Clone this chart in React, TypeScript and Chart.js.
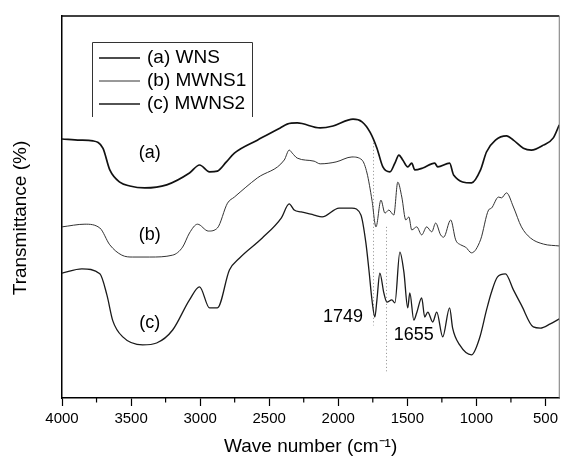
import React, { useEffect, useRef } from 'react';
import { Chart, registerables } from 'chart.js';

Chart.register(...registerables);

const FONT = '"Liberation Sans", Arial, Helvetica, sans-serif';

const seriesLabels = ['(a) WNS', '(b) MWNS1', '(c) MWNS2'];
const xTitle = 'Wave number (cm⁻¹)';
const yTitle = 'Transmittance (%)';

const waveA = [4000, 3870, 3776, 3704, 3654, 3582, 3509, 3401, 3242, 3077, 3004, 2932, 2875, 2810, 2752, 2586, 2420, 2370, 2297, 2131, 2038, 1893, 1828, 1770, 1720, 1677, 1626, 1590, 1561, 1533, 1497, 1468, 1446, 1388, 1302, 1280, 1194, 1165, 1035, 970, 927, 862, 782, 732, 660, 602, 515, 443, 400];
const transA = [67.8, 67.5, 67.3, 65.4, 59.7, 56.5, 55.5, 55.0, 55.8, 58.9, 61.0, 59.2, 59.4, 61.8, 64.1, 67.5, 70.7, 71.7, 72.0, 70.7, 71.2, 73.0, 72.3, 69.6, 65.4, 60.5, 59.2, 61.5, 63.6, 62.3, 60.5, 61.5, 59.7, 60.2, 61.5, 60.5, 61.5, 58.4, 56.3, 59.7, 64.4, 67.5, 68.6, 67.5, 65.4, 64.9, 66.2, 68.1, 71.5];

const waveB = [4000, 3834, 3726, 3654, 3567, 3488, 3365, 3199, 3127, 3077, 3019, 2940, 2875, 2802, 2752, 2586, 2391, 2355, 2333, 2297, 2175, 2131, 2016, 1901, 1828, 1792, 1756, 1727, 1691, 1662, 1634, 1598, 1569, 1540, 1511, 1489, 1468, 1432, 1396, 1360, 1323, 1295, 1259, 1237, 1186, 1150, 1114, 1078, 1035, 970, 912, 891, 840, 818, 782, 732, 674, 609, 515, 400];
const transB = [44.8, 45.5, 44.5, 40.1, 37.4, 36.9, 36.9, 37.4, 39.5, 43.2, 45.5, 43.7, 44.5, 51.0, 52.6, 57.6, 62.3, 64.9, 64.1, 62.8, 62.0, 61.3, 61.8, 63.1, 62.3, 58.9, 51.8, 44.8, 51.8, 48.4, 49.2, 47.9, 56.5, 52.6, 46.6, 47.4, 44.0, 44.8, 42.7, 44.8, 43.5, 45.8, 42.7, 42.1, 46.6, 41.4, 40.1, 39.5, 38.0, 41.4, 49.2, 49.7, 52.6, 52.4, 53.7, 50.0, 44.8, 41.9, 40.3, 39.8];

const waveC = [4000, 3856, 3726, 3675, 3632, 3560, 3416, 3315, 3199, 3077, 3004, 2932, 2875, 2788, 2716, 2550, 2413, 2355, 2319, 2269, 2175, 2117, 1994, 1901, 1836, 1800, 1778, 1756, 1735, 1720, 1699, 1670, 1648, 1612, 1590, 1554, 1525, 1497, 1482, 1453, 1432, 1396, 1374, 1352, 1316, 1287, 1244, 1194, 1172, 1121, 1035, 977, 927, 891, 847, 790, 732, 674, 588, 537, 465, 400];
const transC = [32.7, 33.8, 32.5, 27.0, 20.2, 16.0, 13.9, 14.4, 17.8, 25.7, 29.1, 23.6, 23.6, 33.5, 36.6, 41.9, 47.1, 50.8, 49.2, 48.7, 47.9, 47.4, 49.7, 49.7, 47.9, 40.6, 33.5, 25.7, 21.2, 25.7, 32.7, 27.5, 25.1, 25.7, 24.9, 38.2, 33.0, 23.6, 27.5, 20.4, 22.3, 26.2, 21.2, 22.5, 19.9, 22.5, 16.0, 23.6, 18.3, 13.9, 11.3, 15.7, 23.0, 27.7, 31.7, 32.5, 28.3, 24.3, 18.6, 18.3, 19.4, 20.7];

const majorTicks = [4000, 3500, 3000, 2500, 2000, 1500, 1000, 500];
const minorTicks = [3750, 3250, 2750, 2250, 1750, 1250, 750];

const curveTags = ['(a)', '(b)', '(c)'];
const curveTagWave = [3365, 3365, 3365];
const curveTagTrans = [64.1, 42.7, 19.6];

const peakLabels = ['1749', '1655'];
const peakLabelWave = [1966, 1453];
const peakLabelTrans = [21.2, 16.5];

const markerWave = [1749, 1655];
const markerTop = [66.8, 44.8];
const markerBottom = [19.0, 7.0];

const toPoints = (xs: number[], ys: number[]) => xs.map((x, i) => ({ x, y: ys[i] }));

const decorPlugin = {
  id: 'decor',
  beforeDatasetsDraw(chart: any) {
    const { ctx, scales } = chart;
    const xs = scales.x;
    const ys = scales.y;
    ctx.save();
    ctx.strokeStyle = '#8a8a8a';
    ctx.lineWidth = 1;
    ctx.setLineDash([1, 2.5]);
    markerWave.forEach((w, i) => {
      const px = Math.round(xs.getPixelForValue(w)) + 0.5;
      ctx.beginPath();
      ctx.moveTo(px, ys.getPixelForValue(markerTop[i]));
      ctx.lineTo(px, ys.getPixelForValue(markerBottom[i]));
      ctx.stroke();
    });
    ctx.restore();
  },
  afterDraw(chart: any) {
    const { ctx, chartArea, scales } = chart;
    const xs = scales.x;
    const ys = scales.y;
    ctx.save();
    // frame top and right
    ctx.strokeStyle = '#000';
    ctx.lineWidth = 1.5;
    ctx.beginPath();
    ctx.moveTo(chartArea.left, chartArea.top);
    ctx.lineTo(chartArea.right, chartArea.top);
    ctx.stroke();
    ctx.strokeStyle = '#777';
    ctx.lineWidth = 1;
    ctx.beginPath();
    ctx.moveTo(chartArea.right, chartArea.top);
    ctx.lineTo(chartArea.right, chartArea.bottom);
    ctx.stroke();
    // minor ticks
    ctx.strokeStyle = '#000';
    ctx.lineWidth = 1.2;
    minorTicks.forEach((w) => {
      const px = xs.getPixelForValue(w);
      ctx.beginPath();
      ctx.moveTo(px, chartArea.bottom);
      ctx.lineTo(px, chartArea.bottom + 4.5);
      ctx.stroke();
    });
    // y title
    ctx.fillStyle = '#000';
    ctx.font = `19px ${FONT}`;
    ctx.textAlign = 'center';
    ctx.textBaseline = 'middle';
    ctx.save();
    ctx.translate(21, 218);
    ctx.rotate(-Math.PI / 2);
    ctx.fillText(yTitle, 0, 0);
    ctx.restore();
    // curve tags and peak labels
    ctx.font = `18px ${FONT}`;
    curveTags.forEach((t, i) => {
      ctx.fillText(t, xs.getPixelForValue(curveTagWave[i]), ys.getPixelForValue(curveTagTrans[i]));
    });
    peakLabels.forEach((t, i) => {
      ctx.fillText(t, xs.getPixelForValue(peakLabelWave[i]), ys.getPixelForValue(peakLabelTrans[i]));
    });
    // legend box
    const lx0 = 92, lx1 = 252, ly0 = 42, ly1 = 117;
    ctx.strokeStyle = '#333';
    ctx.lineWidth = 1;
    ctx.beginPath();
    ctx.moveTo(lx0 + 0.5, ly1);
    ctx.lineTo(lx0 + 0.5, ly0 + 0.5);
    ctx.lineTo(lx1 + 0.5, ly0 + 0.5);
    ctx.lineTo(lx1 + 0.5, ly1);
    ctx.stroke();
    ctx.textAlign = 'left';
    ctx.font = `19px ${FONT}`;
    chart.data.datasets.forEach((ds: any, i: number) => {
      const y = 58 + i * 23;
      ctx.strokeStyle = ds.borderColor;
      ctx.lineWidth = ds.borderWidth;
      ctx.beginPath();
      ctx.moveTo(99, y);
      ctx.lineTo(140, y);
      ctx.stroke();
      ctx.fillStyle = '#000';
      ctx.fillText(ds.label, 147, y);
    });
    ctx.restore();
  },
};

export default function App() {
  const canvasRef = useRef<HTMLCanvasElement | null>(null);

  useEffect(() => {
    const canvas = canvasRef.current;
    if (!canvas) return;
    const chart = new Chart(canvas, {
      type: 'line',
      data: {
        datasets: [
          { label: seriesLabels[0], data: toPoints(waveA, transA), borderColor: '#111', borderWidth: 1.7 },
          { label: seriesLabels[1], data: toPoints(waveB, transB), borderColor: '#333', borderWidth: 1.0 },
          { label: seriesLabels[2], data: toPoints(waveC, transC), borderColor: '#1a1a1a', borderWidth: 1.3 },
        ].map((d) => ({ ...d, pointRadius: 0, fill: false, cubicInterpolationMode: 'monotone' as const })),
      },
      options: {
        responsive: false,
        animation: false,
        layout: { padding: { top: 16, right: 1, left: 0, bottom: 0 } },
        plugins: { legend: { display: false }, tooltip: { enabled: false } },
        scales: {
          x: {
            type: 'linear',
            reverse: true,
            min: 400,
            max: 4000,
            afterBuildTicks: (s: any) => {
              s.ticks = majorTicks.map((v) => ({ value: v }));
            },
            afterFit: (s: any) => {
              s.height = 61;
            },
            grid: { display: true, drawOnChartArea: false, drawTicks: true, tickLength: 8, tickColor: '#000', tickWidth: 1.2 },
            border: { display: true, color: '#000', width: 1.5 },
            ticks: {
              color: '#000',
              font: { family: FONT, size: 15 },
              padding: 4,
              maxRotation: 0,
              autoSkip: false,
              callback: (v: any) => String(v),
            },
            title: {
              display: true,
              text: xTitle,
              color: '#000',
              font: { family: FONT, size: 19 },
              padding: { top: 0, bottom: 1 },
            },
          },
          y: {
            type: 'linear',
            min: 0,
            max: 100,
            afterFit: (s: any) => {
              s.width = 62;
            },
            grid: { display: true, drawOnChartArea: false, drawTicks: false },
            border: { display: true, color: '#000', width: 1.5 },
            ticks: { display: false },
            title: { display: false },
          },
        },
      },
      plugins: [decorPlugin],
    });
    return () => chart.destroy();
  }, []);

  return (
    <div style={{ position: 'absolute', left: 0, top: 0, width: 562, height: 459, background: '#fff' }}>
      <canvas ref={canvasRef} width={562} height={459} />
    </div>
  );
}
